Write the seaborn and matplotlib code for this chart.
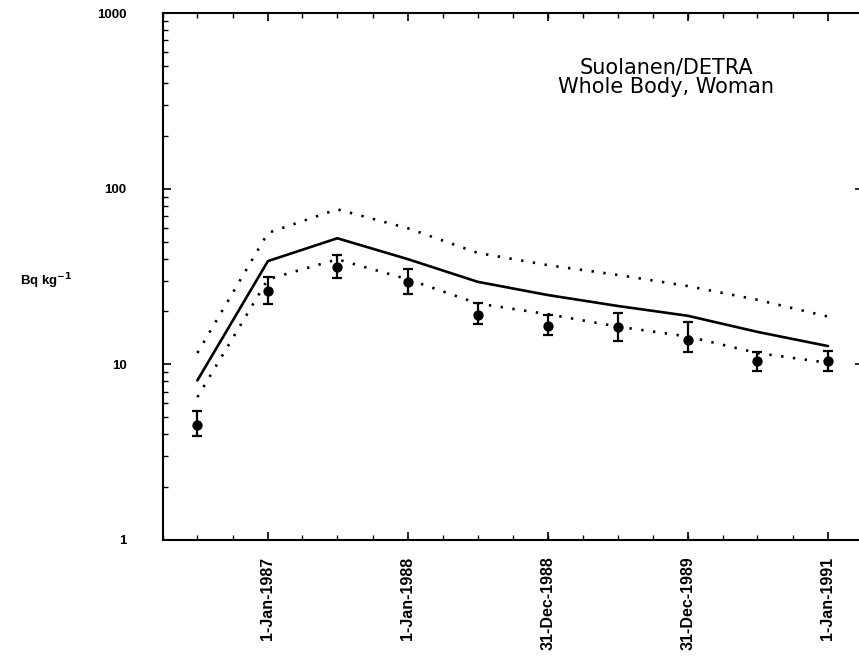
import matplotlib
matplotlib.use("Agg")
import matplotlib.pyplot as plt
import matplotlib.dates as mdates
import matplotlib.ticker as mticker
import seaborn as sns
import pandas as pd
import numpy as np

# ---- data ----
dates = ["1986-07-01", "1987-01-01", "1987-07-01", "1988-01-01", "1988-07-01",
         "1988-12-31", "1989-07-01", "1989-12-31", "1990-07-01", "1991-01-01"]
observed = [4.5, 26.2, 36.0, 29.5, 19.1, 16.6, 16.4, 13.8, 10.4, 10.5]
obs_low = [3.9, 22.0, 30.9, 25.1, 17.0, 14.7, 13.5, 11.8, 9.2, 9.2]
obs_high = [5.4, 31.3, 41.9, 34.9, 22.3, 19.1, 19.5, 17.5, 11.8, 11.9]
model = [8.1, 38.7, 52.2, 39.7, 29.5, 24.8, 21.5, 18.9, 15.3, 12.7]
model_upper = [11.6, 56.0, 76.3, 59.5, 43.1, 36.7, 32.3, 27.9, 23.3, 18.7]
model_lower = [6.5, 30.5, 39.6, 30.5, 22.2, 19.3, 16.4, 14.4, 11.6, 10.2]

tick_dates = ["1987-01-01", "1988-01-01", "1988-12-31", "1989-12-31", "1991-01-01"]
tick_labels = ["1-Jan-1987", "1-Jan-1988", "31-Dec-1988", "31-Dec-1989", "1-Jan-1991"]
title_lines = ["Suolanen/DETRA", "Whole Body, Woman"]
ylabel = "Bq kg$^{\\mathbf{-1}}$"

df = pd.DataFrame({
    "date": pd.to_datetime(dates),
    "observed": observed,
    "low": obs_low,
    "high": obs_high,
    "model": model,
    "upper": model_upper,
    "lower": model_lower,
})

sns.set_style("ticks")
plt.rcParams["font.family"] = ["Liberation Sans", "DejaVu Sans"]
plt.rcParams["text.color"] = "black"
plt.rcParams["xtick.color"] = "black"
plt.rcParams["ytick.color"] = "black"

W, H = 859, 668
fig = plt.figure(figsize=(W / 100, H / 100), dpi=100)
left_px, right_px, top_px, bottom_px = 162.5, 862.5, 13, 540
ax = fig.add_axes([left_px / W, 1 - bottom_px / H,
                   (right_px - left_px) / W, (bottom_px - top_px) / H])

lw = 1.9
sns.lineplot(data=df, x="date", y="model", ax=ax, color="black", lw=lw,
             estimator=None, sort=False)
sns.lineplot(data=df, x="date", y="upper", ax=ax, color="black", lw=lw,
             estimator=None, sort=False, linestyle=(0, (0.9, 3.6)))
sns.lineplot(data=df, x="date", y="lower", ax=ax, color="black", lw=lw,
             estimator=None, sort=False, linestyle=(0, (0.9, 3.6)))

yerr = np.array([df["observed"] - df["low"], df["high"] - df["observed"]])
ax.errorbar(df["date"], df["observed"], yerr=yerr, fmt="none", ecolor="black",
            elinewidth=1.6, capsize=3.4, capthick=1.6, zorder=3)
sns.scatterplot(data=df, x="date", y="observed", ax=ax, color="black",
                s=55, edgecolor="black", linewidth=0, zorder=4)

ax.set_yscale("log")
ax.set_ylim(1, 1000)
ax.set_xlim(pd.Timestamp("1986-04-01"), pd.Timestamp("1991-04-01"))

ax.yaxis.set_major_locator(mticker.FixedLocator([1, 10, 100, 1000]))
ax.yaxis.set_major_formatter(mticker.FixedFormatter(["1", "10", "100", "1000"]))
ax.yaxis.set_minor_locator(mticker.LogLocator(base=10, subs=np.arange(2, 10)))
ax.yaxis.set_minor_formatter(mticker.NullFormatter())

ax.xaxis.set_major_locator(mticker.FixedLocator(mdates.date2num(pd.to_datetime(tick_dates))))
ax.xaxis.set_major_formatter(mticker.FixedFormatter(tick_labels))
ax.xaxis.set_minor_locator(mdates.MonthLocator(bymonth=[1, 4, 7, 10]))

ax.tick_params(axis="both", which="major", direction="in", length=6, width=1.2,
               top=True, right=True, colors="black")
ax.tick_params(axis="both", which="minor", direction="in", length=3.5, width=1.0,
               top=True, right=True)
ax.tick_params(axis="y", which="minor", right=False)
ax.tick_params(axis="y", which="major", labelsize=9.5, pad=26)
ax.tick_params(axis="x", which="major", labelsize=11.5, pad=12, labelrotation=90)
for lab in ax.get_yticklabels() + ax.get_xticklabels():
    lab.set_fontweight("bold")

for sp in ax.spines.values():
    sp.set_linewidth(1.5)
    sp.set_color("black")

ax.set_xlabel("")
ax.set_ylabel("")

fig.text(20 / W, 1 - 281 / H, ylabel, fontsize=9.5, fontweight="bold",
         ha="left", va="center", color="black")
ax.text(0.72, 0.878, "\n".join(title_lines), transform=ax.transAxes,
        fontsize=15, ha="center", va="center", linespacing=0.95,
        family=["DejaVu Sans"], color="black")

fig.savefig("out.png", dpi=100)
